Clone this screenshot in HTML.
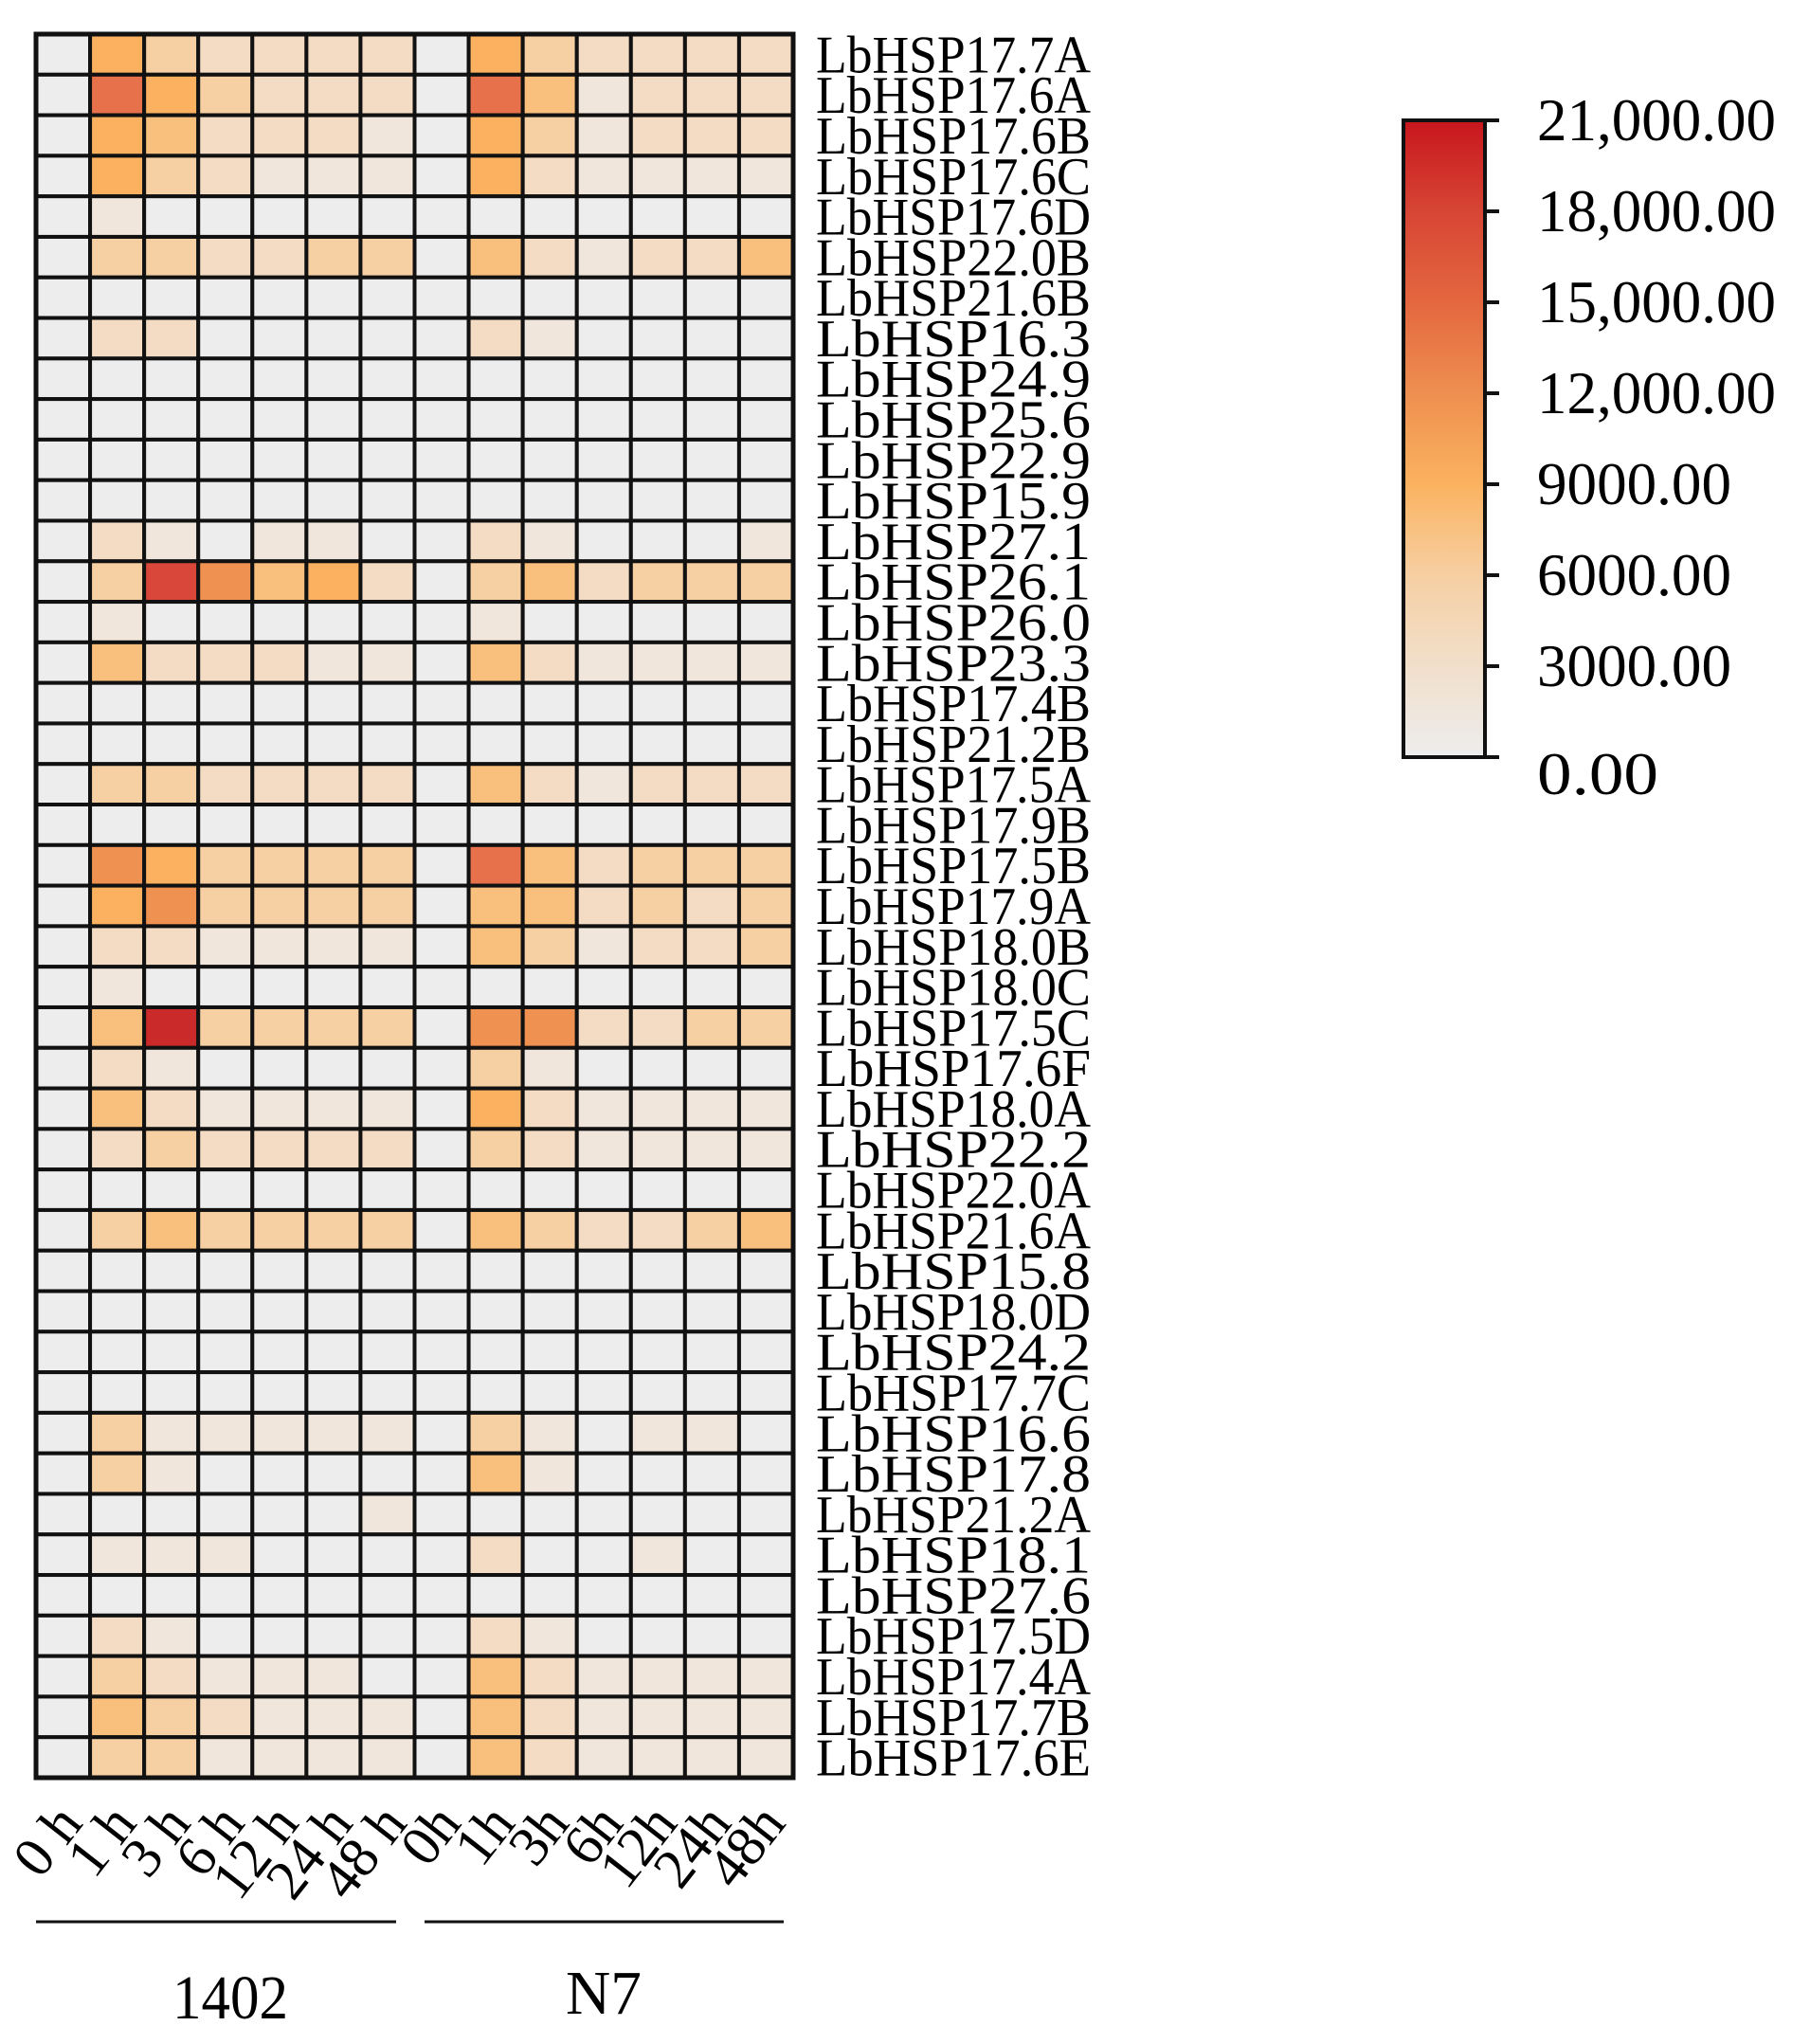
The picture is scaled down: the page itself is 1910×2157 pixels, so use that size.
<!DOCTYPE html>
<html><head><meta charset="utf-8"><style>
html,body{margin:0;padding:0;background:#fff;}
svg{display:block;font-family:"Liberation Serif",serif;}
</style></head><body>
<svg id="s" width="1910" height="2157" xmlns="http://www.w3.org/2000/svg">
<defs><linearGradient id="g" x1="0" y1="1" x2="0" y2="0">
<stop offset="0" stop-color="#EDEDED"/><stop offset="0.143" stop-color="#F1DFCB"/>
<stop offset="0.286" stop-color="#F6CFA2"/><stop offset="0.43" stop-color="#FBB25F"/>
<stop offset="0.571" stop-color="#EE8F50"/><stop offset="0.714" stop-color="#E4673F"/>
<stop offset="0.857" stop-color="#D74534"/><stop offset="1" stop-color="#C8161E"/></linearGradient></defs>
<g id="cells"></g>
<rect x="1481" y="127" width="86" height="672" fill="url(#g)" stroke="#111" stroke-width="4"/>
<g id="cb" font-size="64"></g>
<line x1="38" y1="2028" x2="418" y2="2028" stroke="#111" stroke-width="3"/>
<line x1="448" y1="2028" x2="827" y2="2028" stroke="#111" stroke-width="3"/>
<text x="243" y="2130" font-size="66" text-anchor="middle" textLength="122" lengthAdjust="spacingAndGlyphs">1402</text>
<text x="637" y="2125" font-size="66" text-anchor="middle" textLength="80" lengthAdjust="spacingAndGlyphs">N7</text>
</svg>
<script>
var names=["LbHSP17.7A","LbHSP17.6A","LbHSP17.6B","LbHSP17.6C","LbHSP17.6D","LbHSP22.0B","LbHSP21.6B","LbHSP16.3","LbHSP24.9","LbHSP25.6","LbHSP22.9","LbHSP15.9","LbHSP27.1","LbHSP26.1","LbHSP26.0","LbHSP23.3","LbHSP17.4B","LbHSP21.2B","LbHSP17.5A","LbHSP17.9B","LbHSP17.5B","LbHSP17.9A","LbHSP18.0B","LbHSP18.0C","LbHSP17.5C","LbHSP17.6F","LbHSP18.0A","LbHSP22.2","LbHSP22.0A","LbHSP21.6A","LbHSP15.8","LbHSP18.0D","LbHSP24.2","LbHSP17.7C","LbHSP16.6","LbHSP17.8","LbHSP21.2A","LbHSP18.1","LbHSP27.6","LbHSP17.5D","LbHSP17.4A","LbHSP17.7B","LbHSP17.6E"];
var d=["05322220532222","07532220741222","05422210531222","05321110521111","01000000000000","03322330421224","00000000000000","02200000210000","0","0","0","0",
"02101100210001","03864520342333","01000000100000","04222110421111","0","0","03322220421222","0","06533330742333","05633330442323","02211110431223","01000000000000","04933330662233","02100000310000","04211110521111","02322220321111","0","03433330432234","0","0","0","0","03111110310110","03100000410000","00000010000000","01110000200100","0","02100000210000","03211100421111","04321110421111","03311110421111"];
var cols=["#EDEDED","#F0E6DC","#F3DCC3","#F6CFA2","#F9BF7C","#FBB15F","#EF9150","#E7714A","#D9473A","#CB2A2A"];
var ns="http://www.w3.org/2000/svg",g=document.getElementById("cells"),s=document.getElementById("s");
function el(t,a,p,txt){var e=document.createElementNS(ns,t);for(var k in a)e.setAttribute(k,a[k]);if(txt!=null)e.textContent=txt;(p||g).appendChild(e);return e;}
var x0=38,y0=36,cw=(837-38)/14;
var n=names.length, rh=(1876-36)/n;
for(var r=0;r<n;r++){var row=d[r]||"0";
 for(var c=0;c<14;c++){var v=+(row[c]||0);
  el("rect",{x:x0+c*cw,y:y0+r*rh,width:cw,height:rh,fill:cols[v],stroke:"#111","stroke-width":4});}
 el("text",{x:861,y:y0+r*rh+rh*0.5+19,"font-size":56,textLength:290,lengthAdjust:"spacingAndGlyphs"},s,names[r]);
}
el("rect",{x:x0,y:y0,width:cw*14,height:rh*n,fill:"none",stroke:"#111","stroke-width":5});
var labs=["0 h","1 h","3 h","6 h","12 h","24 h","48 h","0h","1h","3h","6h","12h","24h","48h"];
for(var c=0;c<14;c++){var cx=x0+(c+0.5)*cw+22,cy=1925;
 el("text",{x:cx,y:cy,"font-size":60,"text-anchor":"end",transform:"rotate(-52 "+cx+" "+cy+")"},s,labs[c]);}
var tl=["21,000.00","18,000.00","15,000.00","12,000.00","9000.00","6000.00","3000.00","0.00"];
var cb=document.getElementById("cb");
for(var i=0;i<8;i++){var y=127+i*96;
 el("line",{x1:1567,y1:y,x2:1582,y2:y,stroke:"#111","stroke-width":4},s);
 var ty=y+21+(i==7?18:0);
 var a={x:1622,y:ty};if(i<4){a.textLength=252;a.lengthAdjust="spacingAndGlyphs";}
 if(i>=4&&i<7){a.textLength=205;a.lengthAdjust="spacingAndGlyphs";}
 if(i==7){a.textLength=128;a.lengthAdjust="spacingAndGlyphs";}
 el("text",a,cb,tl[i]);}
</script>
</body></html>
